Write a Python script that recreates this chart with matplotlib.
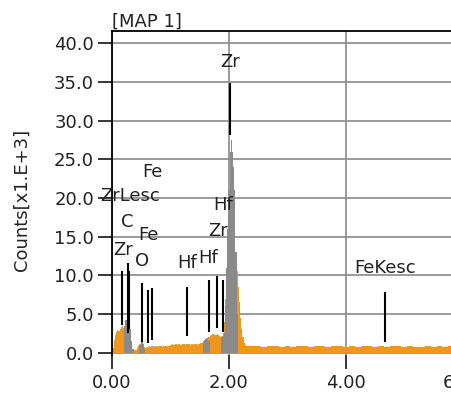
import matplotlib
matplotlib.use("Agg")
import matplotlib.pyplot as plt
import numpy as np

# EDS spectrum, counts in units of 1e3, channels every 0.02 keV up to 2.40 keV
spectrum_counts = [
    0.0, 0.6, 1.6, 2.3, 2.7, 2.9, 2.8, 3.0, 3.3, 3.4,
    3.2, 3.1, 3.6, 4.1, 4.3, 3.7, 2.5, 1.2, 0.5, 0.3,
    0.3, 0.4, 0.6, 0.9, 1.1, 1.2, 1.2, 1.0, 0.7, 0.6,
    0.7,
    0.7, 0.8, 0.7, 0.8, 0.8, 0.7, 0.8, 0.8, 0.7, 0.8,
    0.8, 0.8, 0.7, 0.8, 0.8, 0.9, 0.8, 0.9, 0.9,
    1.0, 1.0, 1.1, 1.0, 1.1, 1.1, 1.0, 1.1, 1.1, 1.0,
    1.1, 1.1, 1.1, 1.0, 1.1, 1.1, 1.1, 1.0, 1.1, 1.1,
    1.0, 1.1, 1.1, 1.0, 1.1,
    1.1, 1.2, 1.3, 1.5, 1.6, 1.7, 1.8, 1.9, 2.0, 2.2,
    2.3, 2.4, 2.4, 2.3, 2.3, 2.4, 2.3, 2.2, 2.0, 2.1,
    2.6,
    4.0, 7.0, 11.0, 15.0, 19.0, 22.0, 23.0, 21.0, 18.0, 14.0,
    12.0, 10.5, 8.5, 6.5, 4.5, 3.0, 2.0, 1.3, 1.0, 0.9,
    0.8, 0.8, 0.8, 0.8, 0.8,
]
spectrum_energy = np.round(np.arange(len(spectrum_counts)) * 0.02, 2)

# high energy background, every 0.1 keV from 2.5 keV
tail_counts = [
    0.8, 0.7, 0.8, 0.8, 0.7, 0.8, 0.7, 0.8, 0.8, 0.7,
    0.8, 0.8, 0.7, 0.8, 0.8, 0.7, 0.8, 0.7, 0.8, 0.8,
    0.7, 0.8, 0.7, 0.8, 0.8, 0.7, 0.8, 0.7, 0.7, 0.8,
    0.7, 0.8, 0.7, 0.8, 0.7, 0.8,
]
tail_energy = np.round(2.5 + np.arange(len(tail_counts)) * 0.1, 2)

# identified peak areas (grey)
peak_areas = [
    ([0.20, 0.22, 0.24, 0.26, 0.28, 0.30, 0.32, 0.34, 0.36, 0.38],
     [0.0, 3.5, 4.2, 4.8, 4.9, 4.5, 3.0, 1.5, 0.5, 0.0]),
    ([0.46, 0.48, 0.50, 0.52, 0.54, 0.56, 0.58],
     [0.0, 1.0, 1.4, 1.4, 1.1, 0.5, 0.0]),
    ([1.54, 1.56, 1.58, 1.60, 1.62, 1.64, 1.66, 1.68],
     [0.0, 1.3, 1.6, 1.8, 1.9, 1.8, 1.5, 0.0]),
    ([1.86, 1.88, 1.90, 1.92, 1.94, 1.96, 1.98, 2.00,
      2.02, 2.04, 2.06, 2.08, 2.10, 2.12, 2.14, 2.16],
     [0.0, 2.0, 2.1, 2.6, 6.0, 11.0, 16.0, 21.0,
      26.0, 27.5, 26.0, 24.0, 21.0, 13.0, 5.0, 0.0]),
]

# element marker lines
marker_energy = [0.17, 0.27, 0.29, 0.52, 0.61, 0.69, 1.28, 1.66, 1.80, 1.90, 2.02, 4.67]
marker_bottom = [3.6, 2.5, 3.0, 1.4, 1.2, 1.6, 2.1, 2.7, 3.2, 2.7, 28.2, 1.4]
marker_top = [10.5, 11.6, 10.6, 9.0, 8.1, 8.3, 8.5, 9.4, 9.9, 9.4, 34.9, 7.9]

# element labels
label_text = ["Zr", "Fe", "ZrLesc", "C", "Fe", "Zr", "O", "Hf", "Hf", "Zr", "Hf", "FeKesc"]
label_energy = [2.02, 0.69, 0.31, 0.26, 0.62, 0.19, 0.51, 1.28, 1.64, 1.81, 1.90, 4.67]
label_height = [37.6, 23.4, 20.2, 16.9, 15.2, 13.3, 11.8, 11.6, 12.2, 15.7, 19.1, 11.0]

ORANGE = "#F0961E"
GREY = "#8A8A8A"
TEXT = "#222222"

plt.rcParams["font.family"] = ["DejaVu Sans"]
plt.rcParams["font.size"] = 13

fig = plt.figure(figsize=(4.52, 3.94), dpi=100)
ax = fig.add_axes([0.2478, 0.099, 0.9, 0.8223])

# one continuous spectrum: fine channels + coarse background
all_energy = np.concatenate([spectrum_energy, tail_energy])
all_counts = np.concatenate([spectrum_counts, tail_counts])
ax.fill_between(all_energy, all_counts, step="mid",
                color=ORANGE, linewidth=0, zorder=2)

for energy, counts in peak_areas:
    ax.fill_between(energy, counts, step="mid",
                    color=GREY, linewidth=0, zorder=3)

ax.vlines(marker_energy, marker_bottom, marker_top,
          color="black", linewidth=1.5, zorder=4)

for text, x, y in zip(label_text, label_energy, label_height):
    ax.text(x, y, text, ha="center", va="center",
            color=TEXT, fontsize=13, zorder=5)

ax.set_xlim(0, 6.957)
ax.set_ylim(-0.3, 41.6)

ax.set_xticks([0, 2, 4, 6])
ax.set_xticklabels(["0.00", "2.00", "4.00", "6.00"])
ax.set_yticks(np.arange(0, 41, 5))
ax.set_yticklabels([f"{v:.1f}" for v in np.arange(0, 41, 5)])

ax.tick_params(direction="out", length=10, width=1.1,
               colors="black", labelcolor=TEXT, pad=3)
ax.tick_params(axis="x", pad=4)

ax.grid(True, color="#8A8A8A", linewidth=1.2, zorder=1)
ax.set_axisbelow(True)

ax.spines["bottom"].set_visible(False)
ax.spines["right"].set_visible(False)
ax.spines["top"].set_linewidth(1.3)
ax.spines["left"].set_linewidth(1.3)

ax.set_title("[MAP 1]", loc="left", pad=3, fontsize=13, color=TEXT)
ax.set_ylabel("Counts[x1.E+3]", fontsize=13, color=TEXT)
ax.yaxis.set_label_coords(-0.20, 0.478)

fig.savefig("out.png", dpi=100)
